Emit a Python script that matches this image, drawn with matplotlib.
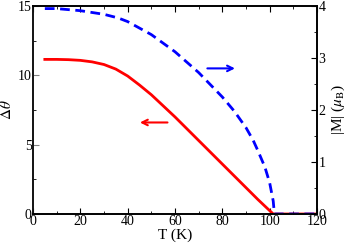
import matplotlib
matplotlib.use("Agg")
import matplotlib.pyplot as plt
from matplotlib.ticker import MultipleLocator

# data
T_red = [5, 10, 15, 20, 25, 30, 35, 40, 45, 50, 60, 70, 80, 90, 95, 101.5, 120]
dtheta = [11.15, 11.15, 11.13, 11.08, 10.97, 10.78, 10.45, 9.95, 9.3, 8.6, 7.0, 5.3, 3.6, 1.9, 1.05, 0.0, 0.0]

T_blue = [5, 10, 20, 30, 36, 40, 50, 60, 70, 80, 85, 90, 93, 95, 98, 100, 101.5, 102, 120]
mag = [3.95, 3.95, 3.91, 3.84, 3.77, 3.70, 3.45, 3.12, 2.72, 2.25, 1.98, 1.66, 1.42, 1.22, 0.9, 0.6, 0.25, 0.0, 0.0]

plt.rcParams['font.family'] = ['Liberation Serif', 'DejaVu Serif']
plt.rcParams['mathtext.fontset'] = 'stix'

fig = plt.figure(figsize=(3.53, 2.46), dpi=100)
ax = fig.add_axes([33/353, 32/246, 284/353, 208/246])
ax2 = ax.twinx()

ax.plot(T_red, dtheta, color="red", lw=2)
ax2.plot(T_blue, mag, color="blue", lw=2, ls=(0, (3.5, 2)))

ax.set_xlim(0, 120)
ax.set_ylim(0, 15)
ax2.set_ylim(0, 4)

ax.xaxis.set_major_locator(MultipleLocator(20))
ax.xaxis.set_minor_locator(MultipleLocator(10))
ax.yaxis.set_major_locator(MultipleLocator(5))
ax.yaxis.set_minor_locator(MultipleLocator(2.5))
ax2.yaxis.set_major_locator(MultipleLocator(1))
ax2.yaxis.set_minor_locator(MultipleLocator(0.5))

ax.tick_params(which='both', direction='in', top=True, labelsize=10, pad=1)
ax.tick_params(which='major', length=4)
ax.tick_params(which='minor', length=2)
ax2.tick_params(which='both', direction='in', labelsize=10, pad=1)
ax2.tick_params(which='major', length=4)
ax2.tick_params(which='minor', length=2)

for sp in ax.spines.values():
    sp.set_linewidth(1.2)
for sp in ax2.spines.values():
    sp.set_linewidth(1.2)
ax.spines['left'].set_color('gray')
ax.tick_params(axis='y', color='gray')

ax.set_xlabel("T (K)", fontsize=11, labelpad=0)
ax.set_ylabel(r"$\Delta\theta$", fontsize=11, labelpad=3)
ax2.set_ylabel(r"|M| ($\mu_\mathrm{B}$)", fontsize=11, labelpad=3)

ax.annotate("", xy=(44, 6.6), xytext=(58, 6.6),
            arrowprops=dict(arrowstyle="->", color="red", lw=1.5))
ax2.annotate("", xy=(86.5, 2.8), xytext=(72.5, 2.8),
             arrowprops=dict(arrowstyle="->", color="blue", lw=1.5))

fig.savefig("out.png", dpi=100)
